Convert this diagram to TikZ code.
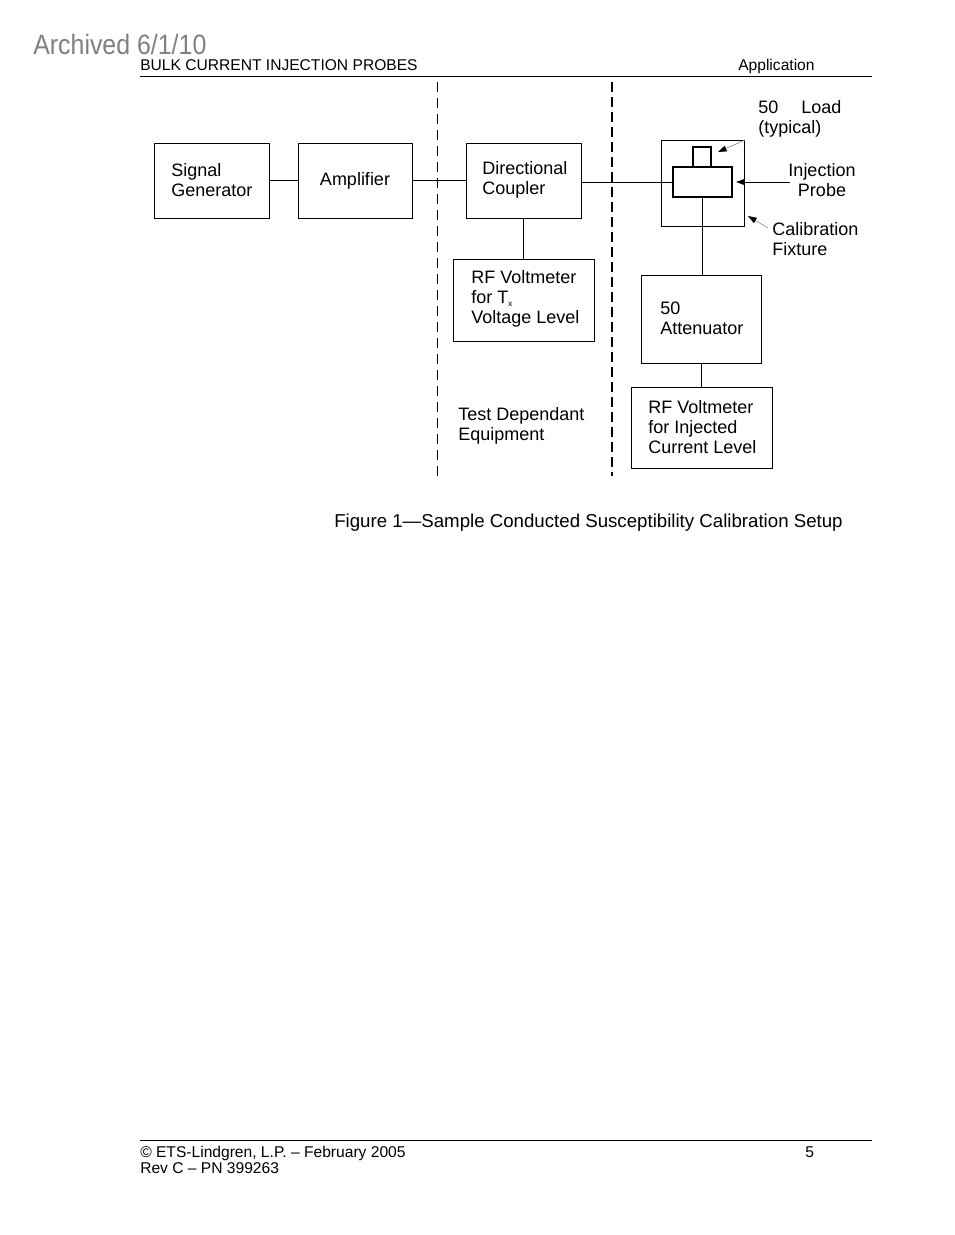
\documentclass[tikz,border=0pt]{standalone}
\usepackage{fontspec}
\setmainfont{Liberation Sans}
\usepackage{graphicx}
\usetikzlibrary{fit,arrows.meta}
\begin{document}
\begin{tikzpicture}[x=0.75pt,y=-0.75pt,
  box/.style={draw, line width=0.75pt, inner sep=0pt},
  thickbox/.style={draw, line width=1.5pt, inner sep=0pt},
  wire/.style={line width=0.75pt},
  txt/.style={anchor=west, align=left, inner sep=0pt, font=\fontsize{13.5}{15}\selectfont},
  small/.style={inner sep=0pt, anchor=base west, font=\fontsize{11.7}{16}\selectfont},
  pointer/.style={draw=black!45, line width=0.5pt, -{Triangle[black,length=6.5pt,width=4.5pt]}},
  thindash/.style={line width=0.75pt, dash pattern=on 7.5pt off 4.5pt},
  thickdash/.style={line width=1.5pt, dash pattern=on 7.5pt off 3.75pt}
]
\useasboundingbox (0,0) rectangle (954,1235);
\fill[white] (0,0) rectangle (954,1235);

% header
\node[anchor=base west, inner sep=0pt, text=black!50, font=\fontsize{21}{21}\selectfont] (arch) at (33,54) {\scalebox{0.89}[1]{Archived 6/1/10}};
\node[small] (hdrL) at (140,70) {BULK CURRENT INJECTION PROBES};
\node[small] (hdrR) at (738,70) {Application};
\coordinate (hl1) at (140,76); \coordinate (hl2) at (872,76);
\draw[line width=0.75pt] (hl1) -- (hl2);

% boxes
\node[box, fit={(154,143) (269,218)}] (sg) {};
\node[box, fit={(298,143) (412,218)}] (amp) {};
\node[box, fit={(466,143) (581,218)}] (dc) {};
\node[box, fit={(453,259) (594,341)}] (rf1) {};
\node[box, fit={(661,140) (744,226)}] (fix) {};
\node[thickbox, fit={(693,147) (711,167)}] (load) {};
\node[thickbox, fit={(673,167) (732,197)}] (probe) {};
\node[box, fit={(641,275) (761,363)}] (att) {};
\node[box, fit={(631,387) (772,468)}] (rf2) {};

% box texts
\node[txt] (sgT) at (171,180.5) {Signal\\Generator};
\node[txt, anchor=center] (ampT) at (amp.center) {Amplifier};
\node[txt] (dcT) at (482,180) {Directional\\Coupler};
\node[txt] (rf1T) at (471,299) {RF Voltmeter\\for T\raisebox{-0.3ex}{\fontsize{6}{6}\selectfont x}\\Voltage Level};
\node[txt] (attT) at (660,318.5) {50\\Attenuator};
\node[txt] (rf2T) at (648,427) {RF Voltmeter\\for Injected\\Current Level};
\node[txt] (tdeT) at (458,426) {Test Dependant\\Equipment};
\node[txt] (loadT) at (758,119) {50\hspace{17.25pt}Load\\(typical)};
\node[txt, anchor=center, align=center] (probeT) at (822,180.5) {Injection\\Probe};
\node[txt] (calT) at (772,239.5) {Calibration\\Fixture};

% wires
\draw[wire] (sg.east) -- (amp.west);
\draw[wire] (amp.east) -- (dc.west);
\draw[wire] (dc.east |- probe.west) -- (probe.west);
\draw[wire] (dc.south) -- (rf1.north);
\draw[wire] (probe.south) -- (probe.south |- att.north);
\draw[wire] (att.south) -- (att.south |- rf2.north);

% dashed separators
\coordinate (d1t) at (437,82); \coordinate (d1b) at (437,476);
\coordinate (d2t) at (612,82); \coordinate (d2b) at (612,476);
\draw[thindash] (d1t) -- (d1b);
\draw[thickdash] (d2t) -- (d2b);

% pointers
\coordinate (la) at (745,140); \coordinate (lb) at (718,152);
\draw[pointer] (la) -- (lb);
\coordinate (pa) at (790,182); \coordinate (pb) at (736,182);
\draw[line width=0.75pt, -{Triangle[black,length=6.5pt,width=4.5pt]}] (pa) -- (pb);
\coordinate (ca) at (768,228); \coordinate (cb) at (748,216);
\draw[pointer] (ca) -- (cb);

% caption
\node[anchor=base west, inner sep=0pt, font=\fontsize{14}{16}\selectfont] (cap) at (334,527) {Figure 1\textemdash Sample Conducted Susceptibility Calibration Setup};

% footer
\coordinate (fl1) at (140,1140); \coordinate (fl2) at (872,1140);
\draw[line width=0.75pt] (fl1) -- (fl2);
\node[small] (ft1) at (140,1157) {\textcopyright{} ETS-Lindgren, L.P. \textendash{} February 2005};
\node[small] (ft2) at (140,1173) {Rev C \textendash{} PN 399263};
\node[small] (pg) at (805,1157) {5};
\end{tikzpicture}
\end{document}
